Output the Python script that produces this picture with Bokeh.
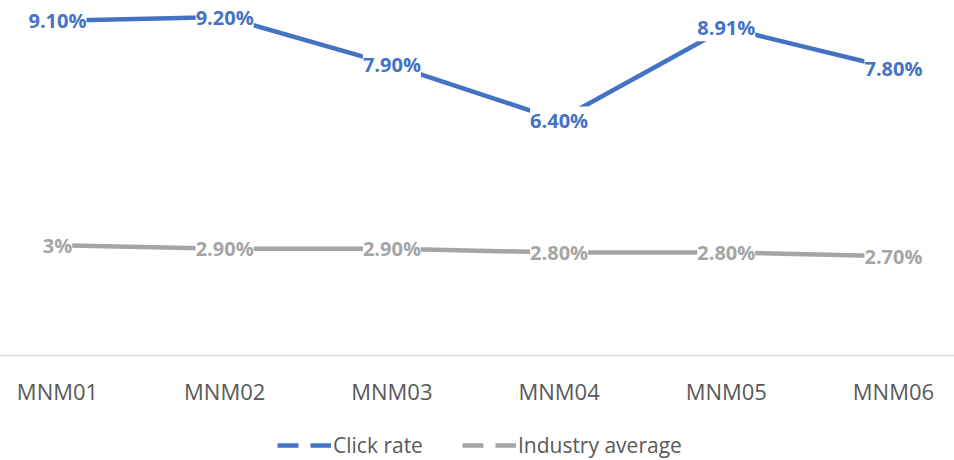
from bokeh.plotting import figure
from bokeh.layouts import column
from bokeh.models import (Range1d, FixedTicker, ColumnDataSource, LabelSet,
                          Legend, LegendItem)
from bokeh.core.properties import value
from bokeh.embed import file_html
from bokeh.resources import INLINE

categories = ["MNM01", "MNM02", "MNM03", "MNM04", "MNM05", "MNM06"]
click_rate = [9.10, 9.20, 7.90, 6.40, 8.91, 7.80]
click_labels = ["9.10%", "9.20%", "7.90%", "6.40%", "8.91%", "7.80%"]
industry_avg = [3.0, 2.9, 2.9, 2.8, 2.8, 2.7]
industry_labels = ["3%", "2.90%", "2.90%", "2.80%", "2.80%", "2.70%"]
series_names = ["Click rate", "Industry average"]

BLUE = "#4472C4"
GRAY = "#A5A5A5"
TXT = "#595959"
FONT = "Open Sans"

xs = list(range(len(categories)))

p = figure(frame_width=954, frame_height=355, output_backend="svg", toolbar_location=None,
           x_range=Range1d(-0.341, 5.365), y_range=Range1d(0, 9.65),
           min_border=0, min_border_bottom=69, y_axis_location=None)
p.outline_line_color = None
p.xgrid.visible = False
p.ygrid.visible = False
p.background_fill_color = "white"
p.border_fill_color = "white"

src1 = ColumnDataSource(dict(x=xs, y=click_rate, t=click_labels))
src2 = ColumnDataSource(dict(x=xs, y=industry_avg, t=industry_labels))

p.line("x", "y", source=src2, line_color=GRAY, line_width=4.5)
p.line("x", "y", source=src1, line_color=BLUE, line_width=4.5)

for src, col in ((src1, BLUE), (src2, GRAY)):
    p.add_layout(LabelSet(x="x", y="y", text="t", source=src,
                          text_align="center", text_baseline="middle",
                          text_font=value(FONT), text_font_style="bold",
                          text_font_size="20px", text_color=col,
                          background_fill_color="white"))

ax = p.xaxis[0]
ax.ticker = FixedTicker(ticks=xs)
ax.major_label_overrides = {i: c for i, c in zip(xs, categories)}
ax.major_tick_line_color = None
ax.minor_tick_line_color = None
ax.major_tick_out = 0
ax.major_tick_in = 0
ax.major_label_standoff = 20
ax.axis_line_color = "#D9D9D9"
ax.axis_line_width = 1.5
ax.major_label_text_font = FONT
ax.major_label_text_font_size = "22px"
ax.major_label_text_color = TXT

# legend strip
lg = figure(frame_width=954, frame_height=36, output_backend="svg", toolbar_location=None,
            x_range=Range1d(0, 1), y_range=Range1d(0, 1), min_border=0,
            x_axis_location=None, y_axis_location=None)
lg.outline_line_color = None
lg.xgrid.visible = False
lg.ygrid.visible = False
lg.border_fill_color = "white"
d1 = lg.line(x=[5, 6], y=[5, 5], line_color=BLUE, line_width=4.5, line_dash="21 12")
d2 = lg.line(x=[5, 6], y=[5, 5], line_color=GRAY, line_width=4.5, line_dash="21 12")

legend = Legend(items=[LegendItem(label=series_names[0], renderers=[d1]),
                       LegendItem(label=series_names[1], renderers=[d2])],
                orientation="horizontal", location=(277, 1),
                glyph_width=54, glyph_height=24, label_standoff=2, spacing=39,
                border_line_color=None, background_fill_alpha=0,
                margin=0, padding=0, label_height=24,
                label_text_font=FONT, label_text_font_size="21px",
                label_text_color=TXT)
lg.add_layout(legend, "center")

layout = column(p, lg, spacing=0)
open("out.html", "w").write(file_html(layout, INLINE))
